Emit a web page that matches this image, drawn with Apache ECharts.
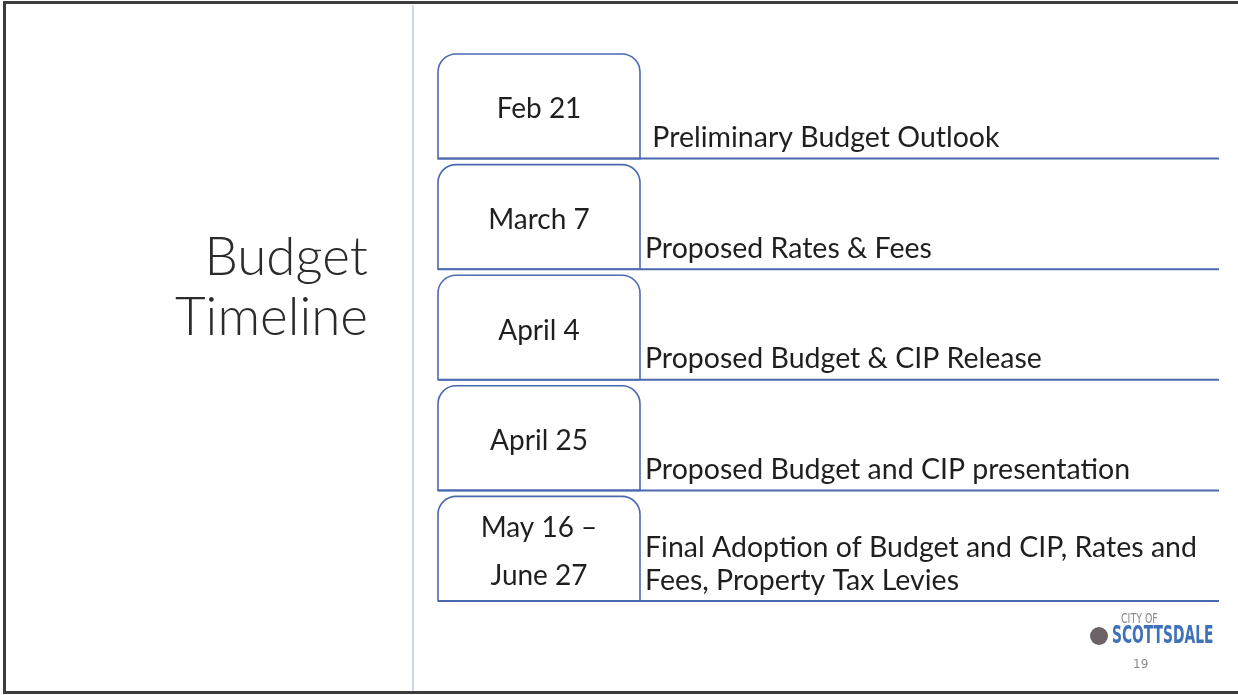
<!DOCTYPE html>
<html>
<head>
    <meta charset="utf-8">
    <title>Budget Timeline</title>
    <script src="https://cdn.jsdelivr.net/npm/echarts@6/dist/echarts.min.js"></script>
    <style>
        html, body { margin: 0; padding: 0; background: #fff; }
    </style>
</head>
<body>
    <div id="main" style="width: 1238px;height:695px;"></div>
    <script type="text/javascript">
        // slide content
        var dates = ['Feb 21', 'March 7', 'April 4', 'April 25', 'May 16 \u2013\nJune 27'];
        var steps = [
            ' Preliminary Budget Outlook',
            'Proposed Rates & Fees',
            'Proposed Budget & CIP Release',
            'Proposed Budget and CIP presentation',
            'Final Adoption of Budget and CIP, Rates and\nFees, Property Tax Levies'
        ];
        var titleLines = ['Budget', 'Timeline'];
        var pageNo = '19';

        var FONT = 'Lato, "Open Sans", sans-serif';
        var BLUE = '#4a69b0';
        var TAB_W = 202;

        var myChart = echarts.init(document.getElementById('main'));

        function renderItem(params, api) {
            var i = api.value(0);
            var c = api.coord([0, i]);
            var xEnd = api.coord([1, i])[0];
            var band = api.size([0, 1])[1];
            var top = c[1] - band / 2 + 3;
            var bottom = c[1] + band / 2 - 3;
            var x0 = c[0];
            return {
                type: 'group',
                children: [
                    {
                        type: 'rect',
                        shape: { x: x0, y: top, width: TAB_W, height: bottom - top, r: [18, 18, 0, 0] },
                        style: { fill: '#fff', stroke: BLUE, lineWidth: 1.6 }
                    },
                    {
                        type: 'line',
                        shape: { x1: x0, y1: bottom, x2: xEnd, y2: bottom },
                        style: { stroke: BLUE, lineWidth: 2 }
                    },
                    {
                        type: 'text',
                        x: x0 + TAB_W / 2,
                        y: (top + bottom) / 2 + 3,
                        style: {
                            text: dates[i], font: '28px ' + FONT, fill: '#1f1f1f',
                            align: 'center', verticalAlign: 'middle', lineHeight: 48
                        }
                    },
                    {
                        type: 'text',
                        x: x0 + TAB_W + 5,
                        y: bottom - 4,
                        style: {
                            text: steps[i], font: '28.5px ' + FONT, fill: '#1f1f1f',
                            align: 'left', verticalAlign: 'bottom', lineHeight: 33
                        }
                    }
                ]
            };
        }

        option = {
            backgroundColor: '#fff',
            animation: false,
            grid: { left: 438, right: 19, top: 51, height: 553 },
            xAxis: { type: 'value', min: 0, max: 1, show: false },
            yAxis: {
                type: 'category', inverse: true, show: false,
                data: dates.map(function (d, i) { return i; })
            },
            series: [{
                type: 'custom',
                renderItem: renderItem,
                data: dates.map(function (d, i) { return [i]; }),
                encode: { y: 0 }
            }],
            graphic: [
                // slide frame and divider
                { type: 'rect', shape: { x: 4.5, y: 2.5, width: 1240, height: 690 }, style: { fill: null, stroke: '#3c3c3c', lineWidth: 3 }, silent: true },
                { type: 'line', shape: { x1: 413, y1: 5, x2: 413, y2: 691 }, style: { stroke: '#a9c0df', lineWidth: 1.2 } },
                // title
                {
                    type: 'text', x: 368, y: 288,
                    style: { text: titleLines.join('\n'), font: '300 53px ' + FONT, fill: '#2b2b2b', align: 'right', verticalAlign: 'middle', lineHeight: 60 }
                },
                // logo
                { type: 'text', x: 1121, y: 612, scaleX: 0.75, style: { text: 'CITY OF', font: '14px "DejaVu Sans Condensed", sans-serif', fill: '#8a8a8a' } },
                { type: 'circle', shape: { cx: 1099, cy: 636, r: 9 }, style: { fill: '#6b6368' } },
                { type: 'text', x: 1112, y: 625, scaleX: 0.64, style: { text: 'SCOTTSDALE', font: 'bold 24px "DejaVu Sans Condensed", sans-serif', fill: '#3d72b8' } },
                { type: 'text', x: 1133, y: 659, style: { text: pageNo, font: '12px "DejaVu Sans", sans-serif', fill: '#8a8a8a' } }
            ]
        };
        myChart.setOption(option);
    </script>
</body>
</html>
